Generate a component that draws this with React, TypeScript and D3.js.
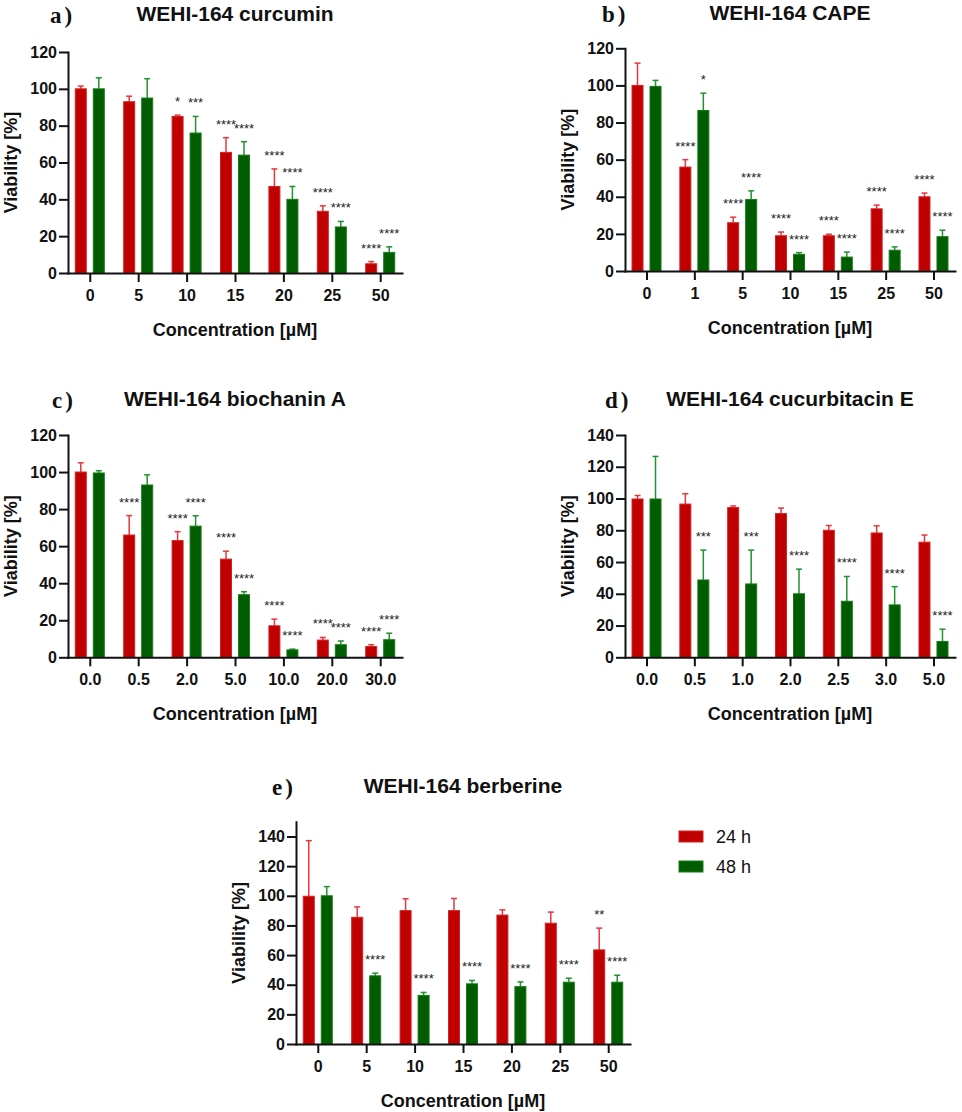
import React, { useRef, useEffect } from 'react';
import * as d3 from 'd3';

const seriesNames = ['24 h', '48 h'];

// a) curcumin
const curcuminConc = ['0', '5', '10', '15', '20', '25', '50'];
const curcumin24 = [100, 93, 85, 65.5, 47, 33.5, 5];
const curcumin24Err = [1.5, 3, 0.7, 8, 9.5, 3, 1.2];
const curcumin48 = [100, 95, 76, 64, 40, 25, 11.2];
const curcumin48Err = [6, 10.5, 9, 7.3, 7, 3, 3];
const curcumin24Sig = ['', '', '*', '****', '****', '****', '****'];
const curcumin48Sig = ['', '', '***', '****', '****', '****', '****'];

// b) CAPE
const capeConc = ['0', '1', '5', '10', '15', '25', '50'];
const cape24 = [100, 56, 26, 19, 19, 33.5, 40];
const cape24Err = [12, 4, 3, 2, 0.8, 2, 2];
const cape48 = [99.5, 86.5, 38.5, 9, 7.5, 11.2, 18.5];
const cape48Err = [3.2, 9.3, 4.7, 0.9, 2.7, 1.8, 3.5];
const cape24Sig = ['', '****', '****', '****', '****', '****', '****'];
const cape48Sig = ['', '*', '****', '****', '****', '****', '****'];

// c) biochanin A
const biochaninConc = ['0.0', '0.5', '2.0', '5.0', '10.0', '20.0', '30.0'];
const biochanin24 = [100, 66, 63, 53, 17, 9.3, 5.8];
const biochanin24Err = [5, 10.5, 4.8, 4.3, 3.6, 1.4, 1];
const biochanin48 = [99.5, 93, 70.8, 33.8, 4, 6.8, 9.5];
const biochanin48Err = [1.2, 5.5, 5.6, 1.6, 0.4, 2, 3.5];
const biochanin24Sig = ['', '****', '****', '****', '****', '****', '****'];
const biochanin48Sig = ['', '', '****', '****', '****', '****', '****'];

// d) cucurbitacin E
const cucurbitacinConc = ['0.0', '0.5', '1.0', '2.0', '2.5', '3.0', '5.0'];
const cucurbitacin24 = [99.7, 96.5, 94.3, 90.5, 80, 78.3, 72.5];
const cucurbitacin24Err = [2.2, 6.5, 1, 3.5, 3, 4.5, 4.5];
const cucurbitacin48 = [99.7, 48.7, 46.2, 40, 35.3, 33, 10];
const cucurbitacin48Err = [26.8, 18.8, 21.3, 15.5, 15.6, 11.5, 7.7];
const cucurbitacin24Sig = ['', '', '', '', '', '', ''];
const cucurbitacin48Sig = ['', '***', '***', '****', '****', '****', '****'];

// e) berberine
const berberineConc = ['0', '5', '10', '15', '20', '25', '50'];
const berberine24 = [99.7, 85.5, 90, 90, 87, 81.5, 63.5];
const berberine24Err = [37.5, 7, 8, 8.2, 3.5, 7.5, 14.7];
const berberine48 = [100, 46, 32.8, 40.6, 38.7, 41.7, 41.7];
const berberine48Err = [6.2, 1.8, 2, 2.3, 3.2, 2.7, 4.7];
const berberine24Sig = ['', '', '', '', '', '', '**'];
const berberine48Sig = ['', '****', '****', '****', '****', '****', '****'];

const fill = ['#c00000', '#005c00'];
const edge = ['#d42222', '#187a18'];
const errColor = ['#e5383f', '#22922e'];
const sansFont = '"Liberation Sans", Arial, sans-serif';

interface Panel {
    letter: string;
    title: string;
    conc: string[];
    values: number[][];
    errors: number[][];
    sig: string[][];
    yMax: number;
    tickMax: number;
    // layout
    axisX: number;
    axisEnd: number;
    y0: number;
    yTop: number;
    titleY: number;
    letterX: number;
}

const panels: Panel[] = [
    {
        letter: 'a', title: 'WEHI-164 curcumin', conc: curcuminConc,
        values: [curcumin24, curcumin48], errors: [curcumin24Err, curcumin48Err], sig: [curcumin24Sig, curcumin48Sig],
        yMax: 120, tickMax: 120, axisX: 68, axisEnd: 402, y0: 273, yTop: 52, titleY: 20.5, letterX: 50,
    },
    {
        letter: 'b', title: 'WEHI-164 CAPE', conc: capeConc,
        values: [cape24, cape48], errors: [cape24Err, cape48Err], sig: [cape24Sig, cape48Sig],
        yMax: 120, tickMax: 120, axisX: 625, axisEnd: 955, y0: 271, yTop: 48.3, titleY: 19.5, letterX: 602,
    },
    {
        letter: 'c', title: 'WEHI-164 biochanin A', conc: biochaninConc,
        values: [biochanin24, biochanin48], errors: [biochanin24Err, biochanin48Err], sig: [biochanin24Sig, biochanin48Sig],
        yMax: 120, tickMax: 120, axisX: 68, axisEnd: 402, y0: 657.3, yTop: 435, titleY: 405.5, letterX: 52,
    },
    {
        letter: 'd', title: 'WEHI-164 cucurbitacin E', conc: cucurbitacinConc,
        values: [cucurbitacin24, cucurbitacin48], errors: [cucurbitacin24Err, cucurbitacin48Err], sig: [cucurbitacin24Sig, cucurbitacin48Sig],
        yMax: 140, tickMax: 140, axisX: 625, axisEnd: 955, y0: 657.3, yTop: 435, titleY: 405.5, letterX: 605,
    },
    {
        letter: 'e', title: 'WEHI-164 berberine', conc: berberineConc,
        values: [berberine24, berberine48], errors: [berberine24Err, berberine48Err], sig: [berberine24Sig, berberine48Sig],
        yMax: 150, tickMax: 140, axisX: 296, axisEnd: 630, y0: 1044, yTop: 821.7, titleY: 792.5, letterX: 272,
    },
];

const drawPanel = (root: d3.Selection<SVGSVGElement, unknown, null, undefined>, p: Panel) => {
    const g = root.append('g');

    const x = d3.scalePoint<string>()
        .domain(p.conc)
        .range([p.axisX, p.axisEnd])
        .padding(0.45);
    const y = d3.scaleLinear()
        .domain([0, p.yMax])
        .range([p.y0, p.yTop]);

    const barW = 12;
    const offsets = [-9, 9];

    // bars + error bars
    p.values.forEach((vals, s) => {
        vals.forEach((v, i) => {
            const cx = (x(p.conc[i]) as number) + offsets[s];
            const top = v + p.errors[s][i];
            g.append('line')
                .attr('x1', cx).attr('x2', cx)
                .attr('y1', y(v)).attr('y2', y(top))
                .attr('stroke', errColor[s]).attr('stroke-width', 1.5);
            g.append('line')
                .attr('x1', cx - 3).attr('x2', cx + 3)
                .attr('y1', y(top)).attr('y2', y(top))
                .attr('stroke', errColor[s]).attr('stroke-width', 1.5);
            g.append('rect')
                .attr('x', cx - barW / 2 + 0.5)
                .attr('y', y(v))
                .attr('width', barW - 1)
                .attr('height', y(0) - y(v))
                .attr('fill', fill[s])
                .attr('stroke', edge[s])
                .attr('stroke-width', 1);
            const label = p.sig[s][i];
            if (label) {
                g.append('text')
                    .attr('x', cx)
                    .attr('y', y(top) - 9)
                    .attr('text-anchor', 'middle')
                    .attr('font-family', sansFont)
                    .attr('font-size', 13)
                    .attr('fill', '#222')
                    .text(label);
            }
        });
    });

    // y axis
    const yAxis = g.append('g')
        .attr('transform', `translate(${p.axisX},0)`)
        .call(d3.axisLeft(y).tickValues(d3.range(0, p.tickMax + 1, 20)).tickSize(9).tickSizeOuter(0).tickPadding(2));

    // x axis
    const xAxis = g.append('g')
        .attr('transform', `translate(0,${p.y0})`)
        .call(d3.axisBottom(x).tickSize(9).tickSizeOuter(0).tickPadding(7.5));

    [yAxis, xAxis].forEach((ax) => {
        ax.select('.domain').attr('stroke', '#111').attr('stroke-width', 2).attr('stroke-linecap', 'square');
        ax.selectAll('.tick line').attr('stroke', '#111').attr('stroke-width', 2);
        ax.selectAll('.tick text')
            .attr('font-family', sansFont)
            .attr('font-weight', 'bold')
            .attr('font-size', 16)
            .attr('fill', '#111');
    });

    // axis titles
    g.append('text')
        .attr('x', (p.axisX + p.axisEnd) / 2)
        .attr('y', p.y0 + 63)
        .attr('text-anchor', 'middle')
        .attr('font-family', sansFont)
        .attr('font-weight', 'bold')
        .attr('font-size', 18)
        .attr('fill', '#111')
        .text('Concentration [µM]');
    g.append('text')
        .attr('transform', `translate(${p.axisX - 51},${(p.y0 + p.yTop) / 2}) rotate(-90)`)
        .attr('text-anchor', 'middle')
        .attr('font-family', sansFont)
        .attr('font-weight', 'bold')
        .attr('font-size', 18)
        .attr('fill', '#111')
        .text('Viability [%]');

    // panel title + letter
    g.append('text')
        .attr('x', (p.axisX + p.axisEnd) / 2)
        .attr('y', p.titleY)
        .attr('text-anchor', 'middle')
        .attr('font-family', sansFont)
        .attr('font-weight', 'bold')
        .attr('font-size', 21)
        .attr('fill', '#111')
        .text(p.title);
    const letter = g.append('text')
        .attr('x', p.letterX)
        .attr('y', p.titleY + 2)
        .attr('font-family', '"Liberation Serif", "Times New Roman", serif')
        .attr('font-weight', 'bold')
        .attr('font-size', 23)
        .attr('fill', '#111');
    letter.append('tspan').text(p.letter);
    letter.append('tspan').attr('dx', 3).text(')');
};

const ViabilityFigure: React.FC = () => {
    const ref = useRef<SVGSVGElement | null>(null);

    useEffect(() => {
        if (!ref.current) return;
        const svg = d3.select(ref.current);
        svg.selectAll('*').remove();

        svg.append('rect').attr('width', 962).attr('height', 1112).attr('fill', '#fff');

        panels.forEach((p) => drawPanel(svg, p));

        // legend
        const legend = svg.append('g');
        seriesNames.forEach((name, s) => {
            legend.append('rect')
                .attr('x', 679).attr('y', 831 + s * 30)
                .attr('width', 24).attr('height', 11)
                .attr('fill', fill[s])
                .attr('stroke', edge[s]);
            legend.append('text')
                .attr('x', 716).attr('y', 843 + s * 30)
                .attr('font-family', sansFont)
                .attr('font-size', 18)
                .attr('fill', '#111')
                .text(name);
        });
    }, []);

    return (
        <svg
            ref={ref}
            width={962}
            height={1112}
            style={{ position: 'absolute', left: 0, top: 0 }}
        />
    );
};

export default function App() {
    return <ViabilityFigure />;
}
